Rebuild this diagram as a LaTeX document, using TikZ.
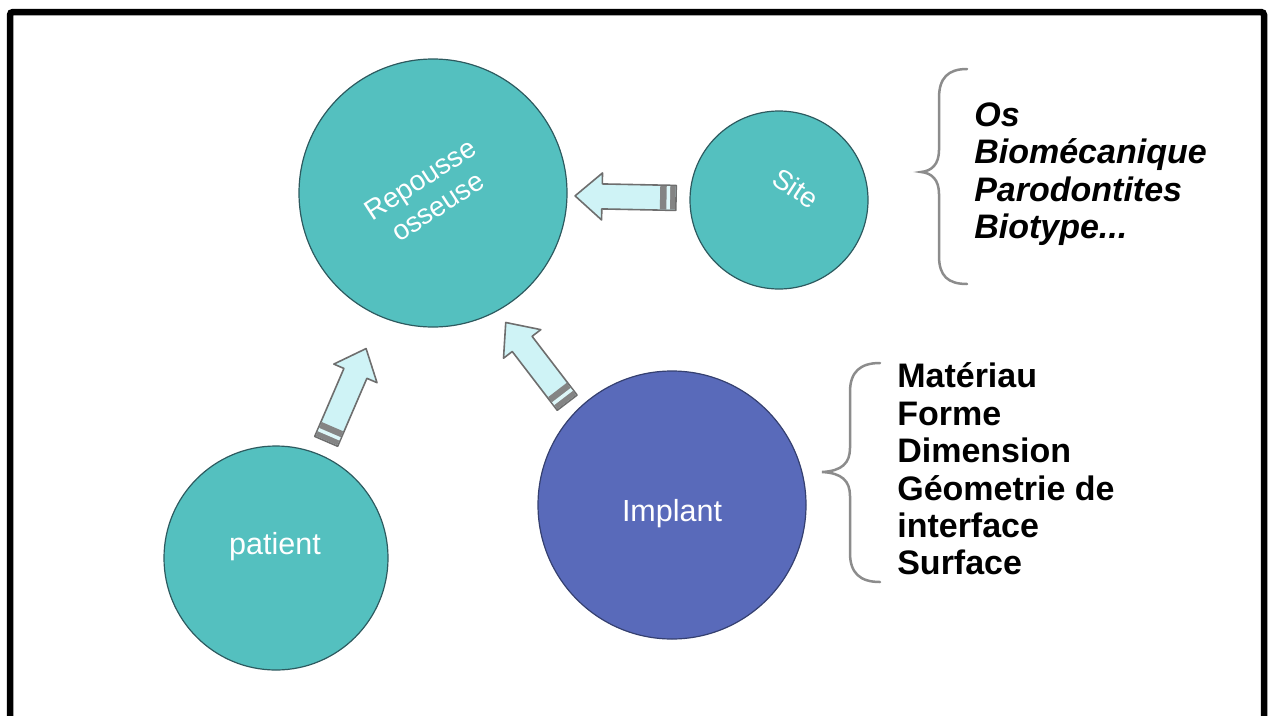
\documentclass[tikz,border=0pt]{standalone}
\usepackage{fontspec}
\setmainfont{Liberation Sans}
\usetikzlibrary{calc}

\definecolor{bubble}{RGB}{84,192,191}
\definecolor{implantblue}{RGB}{89,106,186}
\definecolor{bubbleline}{RGB}{45,90,95}
\definecolor{arrowfill}{RGB}{207,243,246}
\definecolor{arrowline}{RGB}{110,110,110}
\definecolor{braceline}{RGB}{140,140,140}

\tikzset{
  blockarrow/.pic={
    \filldraw[fill=arrowfill, draw=arrowline, line width=1.6pt, line join=round]
      (0,-12.5) -- (74,-12.5) -- (74,-23.5) -- (101,0) -- (74,23.5) -- (74,12.5) -- (0,12.5) -- cycle;
    \fill[arrowline!85] (0.8,-11.7) rectangle (16,11.7);
    \fill[arrowfill!70!white] (6,-11.7) rectangle (9.5,11.7);
  }
}

\begin{document}
\begin{tikzpicture}[x=1pt, y=-1pt, semithick]
  \tikzstyle{disc}=[circle, draw=bubbleline, line width=1.2pt, fill=bubble, inner sep=0pt]
  \tikzstyle{disclabel}=[text=white, font=\fontsize{28}{32}\selectfont, align=center, inner sep=0pt]
  \tikzstyle{factors}=[anchor=west, align=left, text=black, inner sep=0pt]
  \tikzstyle{curly}=[draw=braceline, line width=2.5pt, line cap=round]

  \useasboundingbox (0,0) rectangle (1268,715);
  \clip (0,0) rectangle (1268,715);
  \draw[line width=6.5pt, rounded corners=3pt] (10,12) rectangle (1264,760);

  % circles
  \node[disc, minimum size=268pt] (repousse) at (433,193) {};
  \node[disc, minimum size=178pt] (site)     at (779,200) {};
  \node[disc, minimum size=224pt] (patient)  at (276,558) {};
  \node[disc, minimum size=268pt, fill=implantblue, draw=implantblue!60!black] (implant) at (672,505) {};

  \node[disclabel, rotate=33]  (repoussetext) at (429,193) {Repousse\\osseuse};
  \node[disclabel, rotate=-33] (sitetext)     at (796,188) {Site};
  \node[disclabel, font=\fontsize{30.5}{34}\selectfont] (patienttext) at (275,547) {patient};
  \node[disclabel, font=\fontsize{30.5}{34}\selectfont] (implanttext) at (672,514) {Implant};

  % block arrows
  \path let \p1=($(repousse)-(site)$), \n1={atan2(\y1,\x1)} in
    pic[rotate=\n1] at ($(site)!103pt!(repousse)$) {blockarrow};
  \path let \p1=($(repousse)-(patient)$), \n1={atan2(\y1,\x1)} in
    pic[rotate=\n1] at ($(patient)!127pt!(repousse)$) {blockarrow};
  \path let \p1=($(repousse)-(implant)$), \n1={atan2(\y1,\x1)} in
    pic[rotate=\n1] at ($(implant)!145pt!(repousse)!21pt!90:(repousse)$) {blockarrow};

  % braces
  \draw[curly] (967,69) .. controls (948,69) and (939,78) .. (939,98) -- (939,150)
    .. controls (939,164) and (932,171) .. (921,172)
    .. controls (932,173) and (939,180) .. (939,194) -- (939,256)
    .. controls (939,276) and (948,284) .. (967,284);
  \draw[curly] (880,363) .. controls (860,363) and (850,372) .. (850,392) -- (850,448)
    .. controls (850,463) and (842,471) .. (822,472)
    .. controls (842,473) and (850,481) .. (850,496) -- (850,553)
    .. controls (850,573) and (860,582) .. (880,582);

  \node[factors, font=\fontsize{34}{37.5}\selectfont\bfseries\itshape] (sitelist) at (974,174)
    {Os\\Biomécanique\\Parodontites\\Biotype...};
  \node[factors, font=\fontsize{34}{37.4}\selectfont\bfseries] (implantlist) at (897,469)
    {Matériau\\Forme\\Dimension\\Géometrie de\\interface\\Surface};
\end{tikzpicture}
\end{document}
